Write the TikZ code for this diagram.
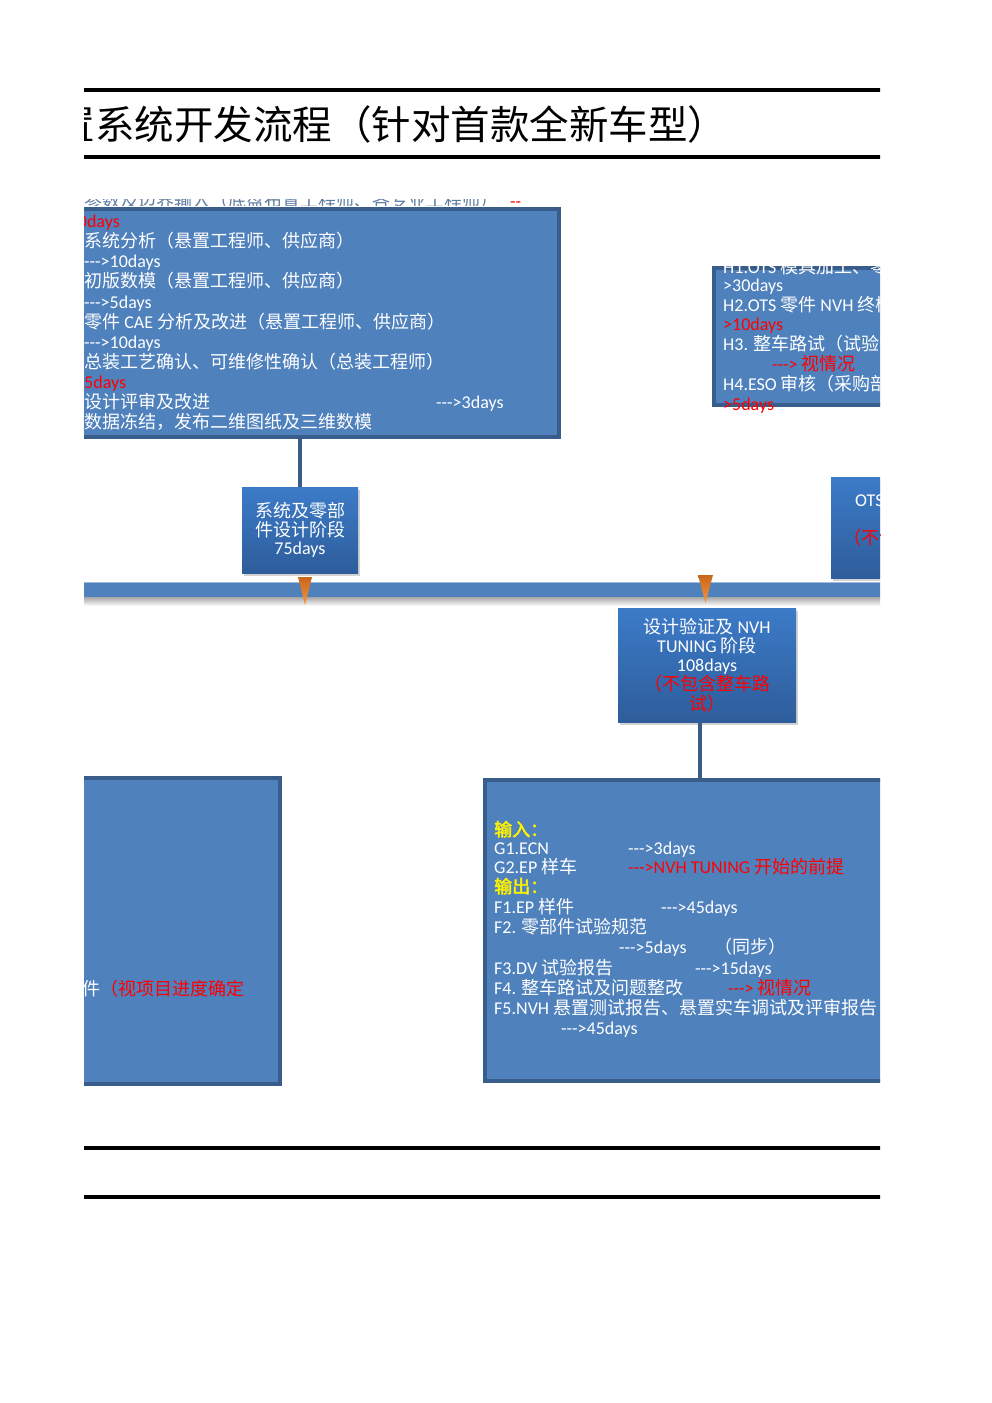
\documentclass[tikz,border=0pt]{standalone}
\usepackage{fontspec}
\setmainfont{Carlito}[Ligatures=TeXOff]
\newfontfamily\cjk{Noto Sans CJK SC}
\newfontfamily\cjkbf{Noto Sans CJK SC}[FakeBold=2.5]
% switch to the CJK family for Han characters and full-width punctuation
\XeTeXinterchartokenstate=1
\chardef\hanclass=7
\def\hansel{\cjk}
\newcount\hancnt
\def\sethan#1#2{\hancnt=#1\relax
  \loop\XeTeXcharclass\hancnt=\hanclass\relax
  \ifnum\hancnt<#2\relax\advance\hancnt by 1\repeat}
\sethan{"3000}{"303F}
\sethan{"4E00}{"9FFF}
\sethan{"FF00}{"FFEF}
\XeTeXinterchartoks 0 \hanclass = {\hansel}
\XeTeXinterchartoks 4095 \hanclass = {\hansel}
\XeTeXinterchartoks \hanclass 0 = {\rmfamily}
\XeTeXinterchartoks \hanclass 4095 = {\rmfamily}
\usetikzlibrary{shadows}
\definecolor{boxfill}{HTML}{4F81BD}
\definecolor{boxline}{HTML}{385D8A}
\definecolor{stagetop}{HTML}{3C7BC8}
\definecolor{stagebot}{HTML}{2E5D9B}
\definecolor{pintop}{HTML}{C8661C}
\definecolor{pinbot}{HTML}{F7963F}
\tikzset{
  panel/.style={rectangle, draw=boxline, line width=3.5pt, fill=boxfill,
    anchor=north west, inner sep=0pt},
  stage/.style={rectangle, top color=stagetop, bottom color=stagebot,
    drop shadow={opacity=0.35, shadow xshift=2pt, shadow yshift=-3pt},
    text=white, align=center, inner sep=0pt,
    font=\fontsize{18}{18.5}\selectfont},
  txt/.style={anchor=base west, inner sep=0pt, text=white,
    font=\fontsize{18}{20}\selectfont},
  hot/.style={txt, text=red},
  pin/.style={top color=pintop, bottom color=pinbot},
  link/.style={draw=boxline, line width=4pt},
  rule/.style={line width=3.5pt, black}
}
\begin{document}
\begin{tikzpicture}[x=1pt,y=-1pt]
\useasboundingbox (0,0) rectangle (992,1403);
\fill[white] (0,0) rectangle (992,1403);
\begin{scope}
\clip (84,0) rectangle (880,1403);

% title
\node[anchor=base west, inner sep=0pt, font=\fontsize{39.5}{40}\selectfont] (title) at (16,139.5) {悬置系统开发流程（针对首款全新车型）};
\draw[rule] (0,90) -- (992,90);
\draw[rule] (0,157) -- (992,157);

% time line
\shade[top color=black!35, bottom color=white] (0,597) rectangle (992,606);
\fill[boxfill] (0,582) rectangle (992,597);
\draw[boxfill!55!white, line width=1pt] (0,582) -- (992,582);

% stages
\node[stage, minimum width=116pt, minimum height=86pt] (stageA) at (300,530) {系统及零部\\件设计阶段\\75days};
\node[stage, minimum width=178pt, minimum height=114pt, font=\fontsize{18}{19.2}\selectfont] (stageB) at (707,665) {设计验证及 NVH\\TUNING 阶段\\108days\\\textcolor{red}{（不包含整车路}\\\textcolor{red}{试）}};
\node[stage, minimum width=98pt, minimum height=101pt] (ots) at (880,527.5) {};
\node[txt] (otsname) at (855,506) {OTS 阶段};
\node[hot] (otsnote) at (843,544) {（不包含）};

\shade[pin] (298,577) -- (312,577) -- (305,605) -- cycle;
\shade[pin] (698,575) -- (713,575) -- (705.5,603) -- cycle;

% panels
\node[panel, minimum width=517pt, minimum height=228pt] (design) at (40,207) {};
\node[panel, minimum width=248pt, minimum height=137pt] (tooling) at (712,266) {};
\node[panel, minimum width=248pt, minimum height=306pt] (sample) at (30,776) {};
\node[panel, minimum width=477pt, minimum height=301pt] (verify) at (483,778) {};

\draw[link] (stageA.north) -- (stageA.north |- design.south);
\coordinate (stemB) at ([xshift=-7pt]stageB.south);
\draw[link] (stemB) -- (stemB |- verify.north);

% design panel
\begin{scope}
\clip (0,199) rectangle (992,205.5);
\node[txt, text=boxline!80!white] (dl0) at (84,207) {参数及边界输入（底盘布置工程师、各专业工程师）\hspace{12pt}\textcolor{red}{--}};
\end{scope}
\node[hot, anchor=base east] (dl1) at (120,227) {10days};
\node[txt] (dl2) at (84,247) {系统分析（悬置工程师、供应商）};
\node[txt] (dl3) at (84,267) {--->10days};
\node[txt] (dl4) at (84,287) {初版数模（悬置工程师、供应商）};
\node[txt] (dl5) at (84,308) {--->5days};
\node[txt] (dl6) at (84,328) {零件 CAE 分析及改进（悬置工程师、供应商）};
\node[txt] (dl7) at (84,348) {--->10days};
\node[txt] (dl8) at (84,368) {总装工艺确认、可维修性确认（总装工程师）};
\node[hot] (dl9) at (84,388) {5days};
\node[txt] (dl10) at (84,408) {设计评审及改进};
\node[txt] (dl10b) at (436,408) {--->3days};
\node[txt] (dl11) at (84,428) {数据冻结，发布二维图纸及三维数模};

% tooling panel
\begin{scope}
\clip (0,262) rectangle (992,300);
\node[txt] (tl1) at (723,273) {H1.OTS 模具加工、零件制造};
\end{scope}
\node[txt] (tl2) at (723,291) {>30days};
\node[txt] (tl3) at (723,311) {H2.OTS 零件 NVH 终检报告};
\node[hot] (tl4) at (723,330) {>10days};
\node[txt] (tl5) at (723,350) {H3. 整车路试（试验部）};
\node[hot] (tl6) at (772,370) {---> 视情况};
\node[txt] (tl7) at (723,390) {H4.ESO 审核（采购部）};
\node[hot] (tl8) at (723,410) {>5days};

% sample panel
\node[txt] (sl1) at (82,995) {件\textcolor{red}{（视项目进度确定}};

% verify panel
\node[txt, text=yellow] (vin) at (494,836) {\def\hansel{\cjkbf}输入：};
\node[txt] (g1) at (494,854) {G1.ECN};
\node[txt] (g1t) at (628,854) {--->3days};
\node[txt] (g2) at (494,873) {G2.EP 样车};
\node[hot] (g2t) at (628,873) {--->NVH TUNING 开始的前提};
\node[txt, text=yellow] (vout) at (494,893) {\def\hansel{\cjkbf}输出：};
\node[txt] (f1) at (494,913) {F1.EP 样件};
\node[txt] (f1t) at (661,913) {--->45days};
\node[txt] (f2) at (494,933) {F2. 零部件试验规范};
\node[txt] (f2t) at (619,953) {--->5days};
\node[txt] (f2n) at (714,953) {（同步）};
\node[txt] (f3) at (494,974) {F3.DV 试验报告};
\node[txt] (f3t) at (695,974) {--->15days};
\node[txt] (f4) at (494,994) {F4. 整车路试及问题整改};
\node[hot] (f4t) at (728,994) {---> 视情况};
\node[txt] (f5) at (494,1014) {F5.NVH 悬置测试报告、悬置实车调试及评审报告};
\node[txt] (f5t) at (561,1034) {--->45days};

% bottom rules
\draw[rule] (0,1148) -- (992,1148);
\draw[rule] (0,1197) -- (992,1197);
\end{scope}
\end{tikzpicture}
\end{document}
